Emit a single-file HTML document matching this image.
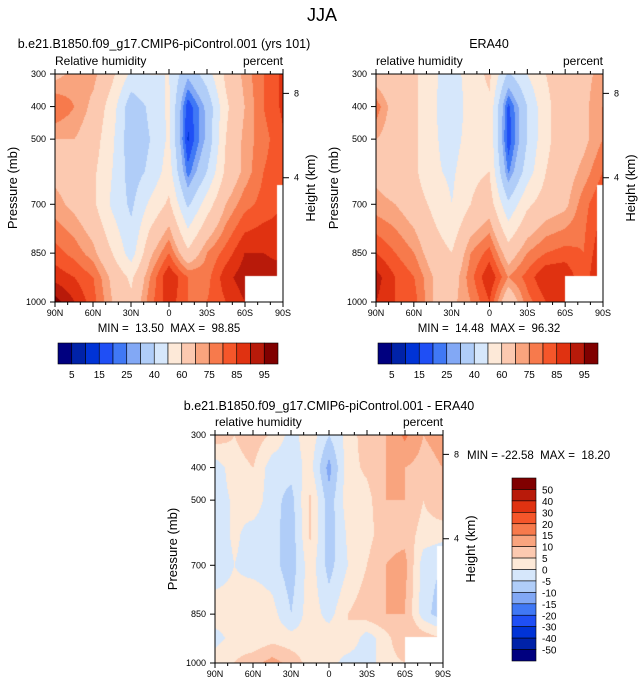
<!DOCTYPE html>
<html><head><meta charset="utf-8">
<style>
html,body{margin:0;padding:0;background:#fff;}
#wrap{position:relative;width:644px;height:688px;overflow:hidden;font-family:"Liberation Sans",sans-serif;}
canvas{position:absolute;}
svg{position:absolute;left:0;top:0;}
text{white-space:pre;}
</style></head>
<body>
<div id="wrap">
<canvas id="c1" width="228" height="228" style="left:55px;top:74px"></canvas>
<canvas id="c2" width="227" height="228" style="left:376px;top:74px"></canvas>
<canvas id="c3" width="228" height="228" style="left:215px;top:435px"></canvas>
<svg id="s" width="644" height="688"></svg>
</div>
<script>
const lats=[90,75,60,45,30,15,0,-15,-30,-45,-60,-75,-90];
const pres=[300,400,500,600,700,850,925,1000];
const modelRH=[
[68,72,72,62,48,50,50,32,45,62,72,80,86],
[80,75,68,55,33,42,52,16,32,58,70,80,86],
[70,70,65,52,33,40,52,14,32,60,72,78,84],
[68,66,62,50,35,42,55,22,40,62,72,80,84],
[72,68,62,48,38,52,62,38,55,70,78,82,85],
[82,78,72,60,45,68,80,62,75,82,90,90,88],
[88,85,80,68,58,75,90,80,78,88,93,93,93],
[97,90,82,70,62,78,88,80,80,85,90,90,90]];
const eraRH=[
[65,62,62,52,45,55,62,38,50,60,65,68,72],
[78,65,62,52,42,55,58,18,40,58,65,68,75],
[70,65,62,52,45,55,58,16,40,58,65,68,75],
[68,65,62,52,48,58,60,24,45,60,66,72,80],
[72,70,65,58,50,60,65,42,58,65,68,78,85],
[85,80,75,65,60,75,82,65,75,80,82,80,90],
[92,85,80,70,65,78,90,75,82,90,90,80,95],
[90,85,82,70,68,75,85,62,78,85,88,82,95]];
const diffRH=[
[8,5,8,4,-2,3,-5,2,8,10,16,10,12],
[-3,3,5,-3,-3,2,-12,3,6,10,10,8,10],
[-3,1,3,-3,-7,6,-8,3,3,10,10,5,10],
[-3,1,-2,-3,-8,6,-8,1,3,8,8,3,2],
[-3,0,-2,-3,-8,3,-7,0,5,10,12,-3,-5],
[3,2,5,2,-5,3,-2,5,8,10,10,-3,-8],
[-2,2,1,3,2,2,3,5,-3,3,10,8,5],
[3,5,8,12,8,3,3,-3,-3,3,5,5,5]];
const rhLevels=[5,10,15,20,25,30,40,50,60,70,75,80,85,90,95];
const rhLabels=["5","15","25","40","60","75","85","95"];
const diffLevels=[-50,-40,-30,-20,-15,-10,-5,0,5,10,15,20,30,40,50];
const diffLabels=["50","40","30","20","15","10","5","0","-5","-10","-15","-20","-30","-40","-50"];
const xTicks=["90N","60N","30N","0","30S","60S","90S"];
const pTicks=[300,400,500,700,850,1000];
const colors=["#00007f","#0022a8","#0033d6","#1f4ff5","#4078f5","#82a8f5","#b0cdf8","#d6e7fb","#fde9d8","#fcc9b0","#f9a47e","#f77a4c","#f5562a","#e03211","#b81a0a","#800000"];

function interp(grid,lat,p){
  let i=0;while(i<pres.length-2&&p>pres[i+1])i++;
  let ty=(p-pres[i])/(pres[i+1]-pres[i]);
  let fx=(90-lat)/15;let j=Math.min(Math.floor(fx),11);let tx=fx-j;
  const a=grid[i][j],b=grid[i][j+1],c=grid[i+1][j],d=grid[i+1][j+1];
  return (a*(1-tx)+b*tx)*(1-ty)+(c*(1-tx)+d*tx)*ty;
}
function hex(h){return [parseInt(h.substr(1,2),16),parseInt(h.substr(3,2),16),parseInt(h.substr(5,2),16)];}
const rgb=colors.map(hex);
function fill(id,grid,levels){
  const cv=document.getElementById(id),ctx=cv.getContext('2d');
  const W=cv.width,H=cv.height,img=ctx.createImageData(W,H);
  for(let y=0;y<H;y++)for(let x=0;x<W;x++){
    const lat=90-180*x/(W-1),p=300+700*y/(H-1);
    let k=4*(y*W+x);
    let masked=(lat<-60&&p>922)||(lat<-86&&p>640);
    if(masked){img.data[k]=img.data[k+1]=img.data[k+2]=255;img.data[k+3]=255;continue;}
    const v=interp(grid,lat,p);let c=0;while(c<levels.length&&v>=levels[c])c++;
    const col=rgb[c];img.data[k]=col[0];img.data[k+1]=col[1];img.data[k+2]=col[2];img.data[k+3]=255;
  }
  ctx.putImageData(img,0,0);
}
fill('c1',modelRH,rhLevels);fill('c2',eraRH,rhLevels);fill('c3',diffRH,diffLevels);

const S=document.getElementById('s');const NS="http://www.w3.org/2000/svg";
function el(tag,attrs,parent,text){const e=document.createElementNS(NS,tag);for(const k in attrs)e.setAttribute(k,attrs[k]);if(text!==undefined)e.textContent=text;(parent||S).appendChild(e);return e;}
function txt(x,y,s,size,anchor,name,rot){const t=el('text',{x:x,y:y,'font-size':size,'text-anchor':anchor||'middle',fill:'#000'},S,s);
  if(rot)t.setAttribute('transform','rotate(-90 '+x+' '+y+')');
  
  return t;}

function axes(x0,y0,w,h,leftLbl,rightLbl){
  const g=el('g',{});
  
  
  el('rect',{x:x0,y:y0,width:w,height:h,fill:'none',stroke:'#000','stroke-width':1},g);
  for(let d=0;d<=180;d+=10){const x=x0+w*d/180;const maj=d%30===0;const L=maj?5:3;
    el('line',{x1:x,y1:y0,x2:x,y2:y0-L,stroke:'#000'},g);
    el('line',{x1:x,y1:y0+h,x2:x,y2:y0+h+L,stroke:'#000'},g);}
  xTicks.forEach((s,i)=>{txt(x0+w*i/6,y0+h+14,s,9,'middle','x-tick-label');});
  pTicks.forEach(p=>{const y=y0+h*(p-300)/700;el('line',{x1:x0,y1:y,x2:x0-5,y2:y,stroke:'#000'},g);
    txt(x0-9,y+3,String(p),9,'end','y-tick-label');});
  [[8,0.085],[4,0.455]].forEach(a=>{const y=y0+h*a[1];el('line',{x1:x0+w,y1:y,x2:x0+w+6,y2:y,stroke:'#000'},g);
    txt(x0+w+11,y+3,String(a[0]),9,'start','height-tick-label');});
  txt(x0,y0-9,leftLbl,12,'start','field-label');
  txt(x0+w,y0-9,rightLbl,12,'end','units-label');
  txt(x0-38,y0+h/2,'Pressure (mb)',13,'middle','y-axis-title',true);
  txt(x0+w+32,y0+h/2,'Height (km)',13,'middle','right-axis-title',true);
}
axes(55,74,228,228,'Relative humidity','percent');
axes(376,74,227,228,'relative humidity','percent');
axes(215,435,228,228,'relative humidity','percent');

txt(322,21,'JJA',18,'middle','figure-title');
txt(164,48,'b.e21.B1850.f09_g17.CMIP6-piControl.001 (yrs 101)',12.5,'middle','model-title');
txt(489,48,'ERA40',12.5,'middle','era40-title');
txt(329,410,'b.e21.B1850.f09_g17.CMIP6-piControl.001 - ERA40',12.5,'middle','difference-title');
txt(169,332,'MIN =  13.50  MAX =  98.85',11.5,'middle','model-min-max');
txt(489,332,'MIN =  14.48  MAX =  96.32',11.5,'middle','era40-min-max');
txt(467,459,'MIN = -22.58  MAX =  18.20',11.5,'start','difference-min-max');

function hbar(x0,y0,w,h){
  const g=el('g',{});
  
  
  const bw=w/16;
  colors.forEach((c,i)=>{const r=el('rect',{x:x0+i*bw,y:y0,width:bw,height:h,fill:c,stroke:'#000','stroke-width':0.6},g);
    
    });
  rhLabels.forEach((s,i)=>{txt(x0+bw*(1+2*i),y0+h+14,s,10,'middle','colorbar-label');});
}
hbar(58,343,220,21);hbar(378,343,220,21);
(function(){const x0=512,y0=478,w=24,h=183,bh=h/16;
  const g=el('g',{});
  
  
  colors.slice().reverse().forEach((c,i)=>{const r=el('rect',{x:x0,y:y0+i*bh,width:w,height:bh,fill:c,stroke:'#000','stroke-width':0.6},g);
    
    });
  diffLabels.forEach((s,i)=>{txt(x0+w+6,y0+bh*(i+1)+4,s,10,'start','colorbar-label');});
})();
</script>
</body></html>
